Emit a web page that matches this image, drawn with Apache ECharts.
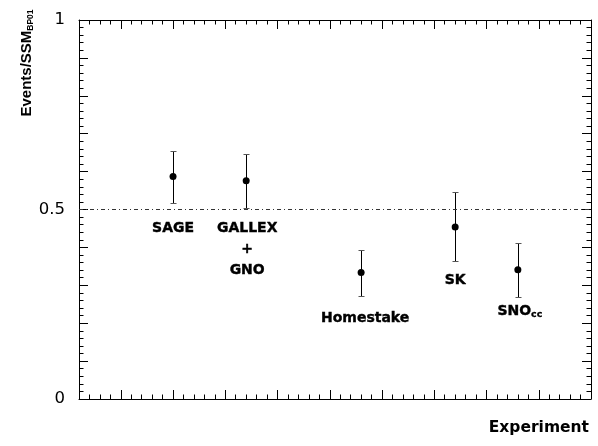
<!DOCTYPE html>
<html>
<head>
<meta charset="utf-8">
<script src="https://cdn.jsdelivr.net/npm/echarts@6/dist/echarts.min.js"></script>
<style>
html,body{margin:0;padding:0;background:#fff;}
#chart{width:598px;height:446px;}
</style>
</head>
<body>
<div id="chart"></div>
<script>
// ---- data ----
const experiments = ['SAGE', 'GALLEX\n+\nGNO', 'Homestake', 'SK', 'SNO{sub|cc}'];
const xPos = [2.0, 3.4, 5.6, 7.4, 8.6];
const ratio = [0.587, 0.576, 0.334, 0.454, 0.341];
const errLow = [0.516, 0.505, 0.272, 0.363, 0.270];
const errHigh = [0.655, 0.646, 0.394, 0.546, 0.412];
const refLevel = 0.5;
const yTickLabels = ['0', '0.5', '1'];

// ---- layout / style (not data) ----
const labelOffsets = [[0, 52], [1, 69], [4, 46], [0, 53], [2, 42]];
const X_MIN = 0.2, X_MAX = 10;
const majorX = [], minorX = [];
for (let i = 1; i < 49; i++) {
  const v = +(X_MIN + i * 0.2).toFixed(2);
  if (Math.abs(v - Math.round(v)) < 1e-6) majorX.push(v); else minorX.push(v);
}
const FONT = 'DejaVu Sans';
const TICK = 'black';

function xAx(pos, ticks, len, showLine) {
  return {
    type: 'value', min: X_MIN, max: X_MAX, position: pos,
    axisLine: {show: showLine, onZero: false, lineStyle: {color: TICK, width: 1}},
    axisTick: {show: true, inside: true, length: len, customValues: ticks, lineStyle: {color: TICK, width: 1}},
    axisLabel: {show: false},
    splitLine: {show: false}
  };
}
function yAx(pos, showLabels) {
  return {
    type: 'value', min: 0, max: 1, interval: 0.1, position: pos,
    axisLine: {show: true, onZero: false, lineStyle: {color: TICK, width: 1}},
    axisTick: {show: true, inside: true, length: 9, lineStyle: {color: TICK, width: 1}},
    minorTick: {show: true, splitNumber: 5, length: 4.5, lineStyle: {color: TICK, width: 1}},
    axisLabel: {
      show: showLabels, margin: 14, color: 'black', fontFamily: FONT, fontSize: 16.5,
      padding: [0, 0, 9, 0],
      formatter: function (v) {
        for (const t of yTickLabels) { if (Math.abs(v - parseFloat(t)) < 1e-6) return t; }
        return '';
      }
    },
    splitLine: {show: false}
  };
}

const chart = echarts.init(document.getElementById('chart'));
const option = {
  animation: false,
  grid: {left: 79, right: 7, top: 20, bottom: 47},
  xAxis: [
    xAx('bottom', majorX, 9, true),
    xAx('bottom', minorX, 4.5, false),
    xAx('top', majorX, 9, true),
    xAx('top', minorX, 4.5, false)
  ],
  yAxis: [
    yAx('left', true),
    yAx('right', false)
  ],
  graphic: [
    {
      type: 'text', x: 27, y: 63, rotation: Math.PI / 2,
      style: {
        text: 'Events/SSM{sub|BP01}',
        fontFamily: 'Liberation Sans', fontSize: 15, fontWeight: 'bold', fill: 'black',
        align: 'center', verticalAlign: 'middle',
        rich: {sub: {fontFamily: 'Liberation Sans', fontSize: 8.5, fontWeight: 'bold', fill: 'black', verticalAlign: 'middle', padding: [7, 0, 0, 0]}}
      }
    },
    {
      type: 'text', x: 589, y: 428,
      style: {
        text: 'Experiment', fontFamily: FONT, fontSize: 15.5, fontWeight: 'bold', fill: 'black',
        align: 'right', verticalAlign: 'middle'
      }
    }
  ],
  series: [
    {
      type: 'custom',
      xAxisIndex: 0, yAxisIndex: 0,
      data: xPos.map((x, i) => [x, errLow[i], errHigh[i]]),
      renderItem: function (params, api) {
        const top = api.coord([api.value(0), api.value(2)]);
        const bot = api.coord([api.value(0), api.value(1)]);
        const x = Math.round(top[0]) + 0.5;
        const yt = Math.round(top[1]) + 0.5, yb = Math.round(bot[1]) + 0.5;
        return {
          type: 'group',
          children: [
            {type: 'line', shape: {x1: x, y1: yt, x2: x, y2: yb}, style: {stroke: 'black', lineWidth: 1}},
            {type: 'line', shape: {x1: x - 3, y1: yt, x2: x + 3, y2: yt}, style: {stroke: '#555', lineWidth: 1}},
            {type: 'line', shape: {x1: x - 3, y1: yb, x2: x + 3, y2: yb}, style: {stroke: '#555', lineWidth: 1}}
          ]
        };
      },
      z: 2
    },
    {
      type: 'scatter',
      xAxisIndex: 0, yAxisIndex: 0,
      symbol: 'circle', symbolSize: 7,
      itemStyle: {color: 'black', opacity: 1},
      data: xPos.map((x, i) => ({
        value: [x, ratio[i]],
        label: {
          show: true, position: 'inside', offset: labelOffsets[i],
          formatter: experiments[i],
          fontFamily: FONT, fontSize: 14, fontWeight: 'bold', color: 'black',
          textBorderColor: 'black', textBorderWidth: 0.4,
          lineHeight: 21, align: 'center', verticalAlign: 'middle',
          rich: {sub: {fontFamily: FONT, fontSize: 9.5, fontWeight: 'bold', color: 'black', textBorderColor: 'black', textBorderWidth: 0.3, verticalAlign: 'middle', padding: [6, 0, 0, 0]}}
        }
      })),
      markLine: {
        silent: true, symbol: 'none',
        label: {show: false},
        lineStyle: {color: '#333', width: 1, type: [4, 3, 1, 3]},
        data: [{yAxis: refLevel}]
      },
      z: 3
    }
  ]
};
chart.setOption(option);
</script>
</body>
</html>
